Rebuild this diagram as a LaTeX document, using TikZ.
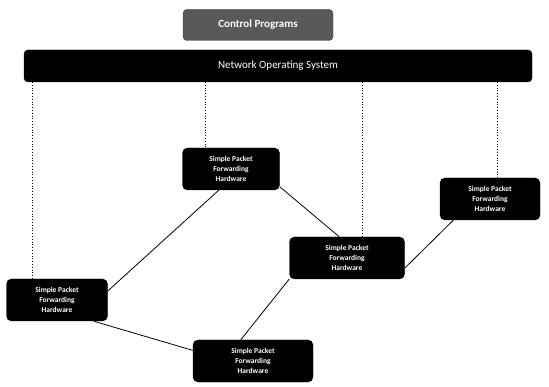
\documentclass[tikz,border=0pt]{standalone}
\usepackage{fontspec}
\setmainfont{Carlito}
\usepackage{tikz}

\tikzset{
    hw/.style={draw=black, fill=black, rounded corners=5pt, text=white, align=center,
        font=\fontsize{7.5}{10}\selectfont\bfseries, minimum height=42pt, inner sep=2pt},
    nos/.style={draw=black, fill=black, rounded corners=4pt, text=white,
        minimum width=508pt, minimum height=32pt, font=\fontsize{11}{13}\selectfont},
    ctrl/.style={draw=black!80, fill=black!65, rounded corners=4pt, text=white,
        minimum width=150pt, minimum height=31pt, font=\fontsize{11}{13}\selectfont\bfseries},
    link/.style={black, line width=0.8pt},
    vline/.style={black, dotted, line width=0.8pt}
}

\begin{document}
\begin{tikzpicture}[x=1pt,y=-1pt]
        \useasboundingbox (0,0) rectangle (549,387);

        \node[ctrl] (ctrl) at (258,25) {Control Programs};
        \node[nos] (nos) at (278,66) {Network Operating System};

        \node[hw, minimum width=97pt] (a) at (231,169) {Simple Packet\\Forwarding\\Hardware};
        \node[hw, minimum width=100pt] (b) at (490,199) {Simple Packet\\Forwarding\\Hardware};
        \node[hw, minimum width=115pt] (c) at (347,258) {Simple Packet\\Forwarding\\Hardware};
        \node[hw, minimum width=101pt] (d) at (57,300) {Simple Packet\\Forwarding\\Hardware};
        \node[hw, minimum width=120pt] (e) at (253,361) {Simple Packet\\Forwarding\\Hardware};

        \coordinate (p1) at (32,82);
        \coordinate (p2) at (205,82);
        \coordinate (p3) at (362,82);
        \coordinate (p4) at (497,82);

        \draw[vline] (p1) -- (p1 |- d.north);
        \draw[vline] (p2) -- (p2 |- a.north);
        \draw[vline] (p3) -- (p3 |- c.north);
        \draw[vline] (p4) -- (p4 |- b.north);

        \draw[link] (a.240) -- (d.10);
        \draw[link] (a.-20) -- (c.110);
        \draw[link] (c.-10) -- (b.-150);
        \draw[link] (c.-160) -- (e.120);
        \draw[link] (d.-30) -- (e.170);
    \end{tikzpicture}
\end{document}
